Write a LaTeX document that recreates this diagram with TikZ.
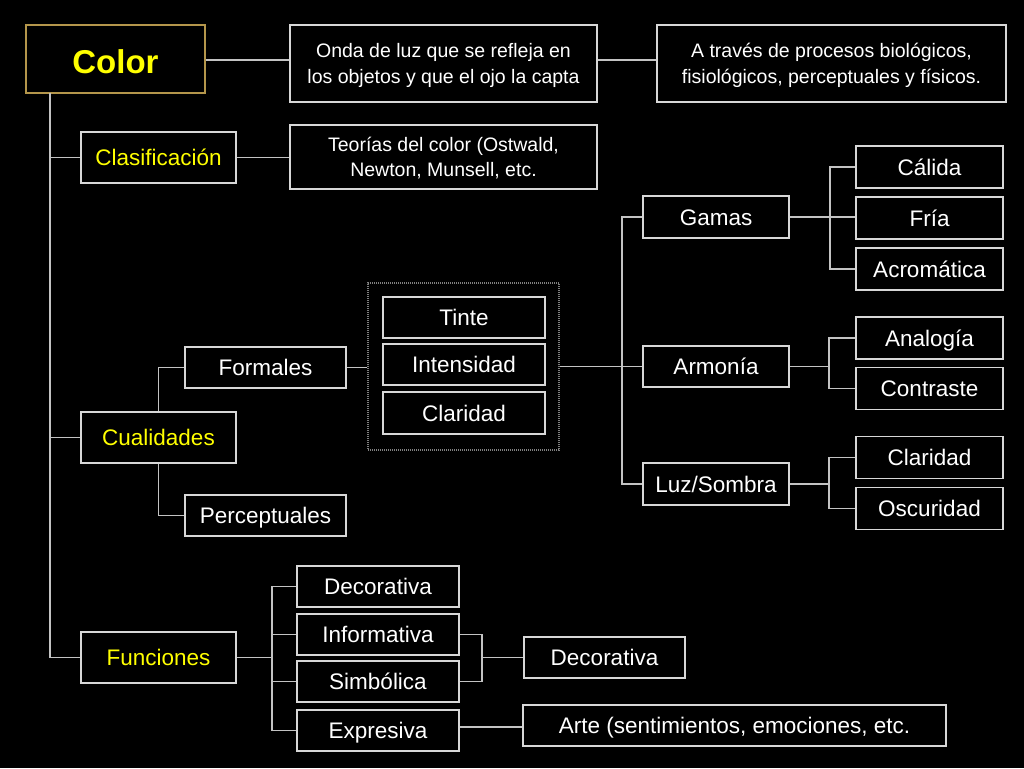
\documentclass[tikz,border=0pt]{standalone}
\usepackage{fontspec}
\setmainfont{Liberation Sans}
\definecolor{boxline}{RGB}{215,215,215}
\definecolor{conn}{RGB}{195,195,195}
\definecolor{goldb}{RGB}{180,150,75}
\definecolor{ytext}{RGB}{255,255,0}
\begin{document}
\begin{tikzpicture}[x=1pt,y=-1pt,
  box/.style={draw=boxline, line width=1.5pt, text=white, inner sep=0pt,
     font=\fontsize{22.5}{25}\selectfont, minimum width=162pt, minimum height=41pt,
     text height=20pt, text depth=4pt},
  small/.style={align=center, font=\fontsize{19.5}{25}\selectfont, text height=41pt, text depth=2pt},
  yel/.style={text=ytext},
  ln/.style={draw=conn, line width=1.3pt}]
\fill[black] (0,0) rectangle (1024,768);
\useasboundingbox (0,0) rectangle (1024,768);

% top row
\node[box, draw=goldb, yel, minimum width=179pt, minimum height=68pt, font=\bfseries\fontsize{33}{36}\selectfont, text height=31pt, text depth=2pt] (color) at (115.5,59) {Color};
\node[box, small, minimum width=307pt, minimum height=77pt] (onda) at (443.5,63.5) {Onda de luz que se refleja en\\los objetos y que el ojo la capta};
\node[box, small, minimum width=349pt, minimum height=77pt] (atraves) at (831.5,63.5) {A través de procesos biológicos,\\fisiológicos, perceptuales y físicos.};

\node[box, yel, minimum width=155pt, minimum height=51pt] (clas) at (158.5,157.5) {Clasificación};
\node[box, small, minimum width=307pt, minimum height=64pt] (teorias) at (443.5,157) {Teorías del color (Ostwald,\\Newton, Munsell, etc.};

% cualidades
\node[box, yel, minimum width=155pt, minimum height=51pt] (cual) at (158.5,437.5) {Cualidades};
\node[box, minimum width=161pt] (formales) at (265.5,367.5) {Formales};
\node[box, minimum width=161pt] (percep) at (265.5,515.5) {Perceptuales};

\node[draw=gray, line width=1.2pt, dash pattern=on 1pt off 1pt, minimum width=191pt, minimum height=167pt, inner sep=0pt] (grp) at (463.5,366.5) {};
\node[box] (tinte) at (464,317.5) {Tinte};
\node[box] (intens) at (464,364.5) {Intensidad};
\node[box, minimum height=42pt] (clar) at (464,413) {Claridad};

\node[box, minimum width=146pt, minimum height=42pt] (gamas) at (716,217) {Gamas};
\node[box, minimum width=146pt] (armonia) at (716,366.5) {Armonía};
\node[box, minimum width=146pt, minimum height=42pt] (luz) at (716,484) {Luz/Sombra};

\node[box, minimum width=147pt, minimum height=42pt] (calida) at (929.5,167) {Cálida};
\node[box, minimum width=147pt, minimum height=42pt] (fria) at (929.5,218) {Fría};
\node[box, minimum width=147pt, minimum height=42pt] (acrom) at (929.5,269) {Acromática};
\node[box, minimum width=147pt, minimum height=42pt] (analog) at (929.5,338) {Analogía};
\node[box, minimum width=147pt, minimum height=42pt] (contr) at (929.5,388.5) {Contraste};
\node[box, minimum width=147pt, minimum height=42pt] (clar2) at (929.5,457.5) {Claridad};
\node[box, minimum width=147pt, minimum height=42pt] (oscur) at (929.5,508.5) {Oscuridad};

% funciones
\node[box, yel, minimum width=155pt, minimum height=51pt] (func) at (158.5,657.5) {Funciones};
\node[box] (deco1) at (378,586.5) {Decorativa};
\node[box] (info) at (378,634.5) {Informativa};
\node[box] (simb) at (378,681.5) {Simbólica};
\node[box] (expr) at (378,730.5) {Expresiva};
\node[box, minimum width=161pt] (deco2) at (604.5,657.5) {Decorativa};
\node[box, minimum width=423pt] (arte) at (734.5,725.5) {Arte (sentimientos, emociones, etc.};

% coordinates
\coordinate (t0) at (50,93);
\coordinate (gx) at (622,0);
\coordinate (bx1) at (830,0);
\coordinate (bx2) at (829,0);
\coordinate (fx) at (272,0);
\coordinate (ix) at (482,0);

% connectors
\draw[ln] (color.east |- 0,60) -- (onda.west |- 0,60);
\draw[ln] (onda.east |- 0,60) -- (atraves.west |- 0,60);
\draw[ln] (t0) |- (func.west);
\draw[ln] (t0 |- clas) -- (clas.west);
\draw[ln] (t0 |- cual) -- (cual.west);
\draw[ln] (clas.east) -- (teorias.west |- clas);

\draw[ln] (formales.west) -| (cual.north);
\draw[ln] (percep.west) -| (cual.south);
\draw[ln] (formales.east) -- (grp.west |- formales);

\draw[ln] (grp.east |- armonia) -- (armonia.west);
\draw[ln] (gamas.west) -| (gx |- armonia) |- (luz.west);

\draw[ln] (gamas.east) -- (fria.west |- gamas);
\draw[ln] (calida.west) -| (bx1 |- fria) |- (acrom.west);

\draw[ln] (armonia.east) -- (bx2 |- armonia);
\draw[ln] (analog.west) -| (bx2 |- armonia) |- (contr.west);

\draw[ln] (luz.east) -- (bx2 |- luz);
\draw[ln] (clar2.west) -| (bx2 |- luz) |- (oscur.west);

\draw[ln] (func.east) -- (fx |- func);
\draw[ln] (deco1.west) -| (fx |- func) |- (expr.west);
\draw[ln] (fx |- info) -- (info.west);
\draw[ln] (fx |- simb) -- (simb.west);

\draw[ln] (info.east) -| (ix |- deco2) |- (simb.east);
\draw[ln] (ix |- deco2) -- (deco2.west);
\draw[ln] (expr.east |- 0,727) -- (arte.west |- 0,727);
\end{tikzpicture}
\end{document}
